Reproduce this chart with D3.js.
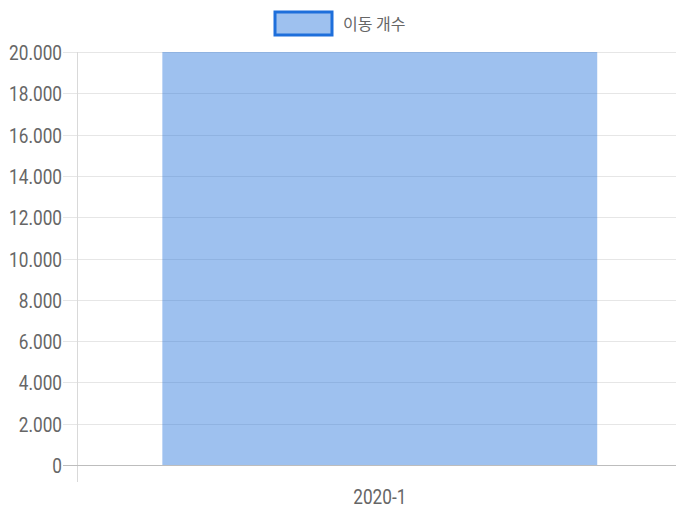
<!DOCTYPE html>
<html>
<head>
<meta charset="utf-8">
<script src="https://cdn.jsdelivr.net/npm/d3@7"></script>
<style>
  body { margin: 0; background: #fff; }
  svg { display: block; }
  .tick text { fill: #666; font-family: Roboto, sans-serif; }
</style>
</head>
<body>
<svg id="chart"></svg>
<script>
// data
var categories = ['2020-1'];
var moveCounts = [23800];
var seriesName = '이동 개수';
var yTicks = [0, 2000, 4000, 6000, 8000, 10000, 12000, 14000, 16000, 18000, 20000];

var width = 676, height = 511;
var padding = {t: 52, r: 0, b: 46, l: 77};
var chartWidth = width - padding.l - padding.r;
var chartHeight = height - padding.t - padding.b;

var svg = d3.select('#chart').attr('width', width).attr('height', height);

var xScale = d3.scaleBand().domain(categories).range([padding.l, width - padding.r])
	.paddingInner(0.274).paddingOuter(0.137).align(0.52);
var yScale = d3.scaleLinear().domain([0, 20000]).range([padding.t + chartHeight, padding.t]).clamp(true);

var fmt = function(d) { return d3.format(',')(d).replace(/,/g, '.'); };

// grid lines
svg.append('g').selectAll('line')
	.data(yTicks.slice(1))
	.enter()
	.append('line')
	.attr('x1', padding.l - 14)
	.attr('x2', width)
	.attr('y1', function(d) { return Math.round(yScale(d)) + 0.5; })
	.attr('y2', function(d) { return Math.round(yScale(d)) + 0.5; })
	.style('stroke', '#e6e6e6');

// y axis line
svg.append('line')
	.attr('x1', padding.l + 0.5).attr('x2', padding.l + 0.5)
	.attr('y1', padding.t).attr('y2', padding.t + chartHeight + 17)
	.style('stroke', '#d9d9d9');

// bars
svg.selectAll('rect.bar')
	.data(moveCounts)
	.enter()
	.append('rect')
	.attr('class', 'bar')
	.attr('x', function(d, i) { return xScale(categories[i]); })
	.attr('width', xScale.bandwidth())
	.attr('y', function(d) { return yScale(d); })
	.attr('height', function(d) { return yScale(0) - yScale(d); })
	.style('fill', 'rgba(30, 111, 219, 0.43)');

// baseline and zero tick
svg.append('line')
	.attr('x1', padding.l - 14).attr('x2', width)
	.attr('y1', Math.round(yScale(0)) + 0.5).attr('y2', Math.round(yScale(0)) + 0.5)
	.style('stroke', '#bdbdbd');

// y labels
var yAxis = svg.append('g')
	.attr('transform', 'translate(' + (padding.l - 14) + ',0)')
	.call(d3.axisLeft(yScale).tickValues(yTicks).tickFormat(fmt).tickSize(0).tickPadding(2));
yAxis.select('.domain').remove();
yAxis.selectAll('text')
	.style('font-size', '21px')
	.attr('transform', 'scale(0.82,1)')
	.attr('dy', '0.36em')
	.attr('x', -1 / 0.82);

// x labels
var xAxis = svg.append('g')
	.attr('transform', 'translate(0,' + (padding.t + chartHeight) + ')')
	.call(d3.axisBottom(xScale).tickSize(0).tickPadding(0));
xAxis.select('.domain').remove();
xAxis.selectAll('text')
	.style('font-size', '21px')
	.attr('y', 31)
	.attr('dy', '0.36em')
	.attr('transform', 'scale(0.82,1)');

// legend
var legend = svg.append('g').attr('transform', 'translate(275,12)');
legend.append('rect')
	.attr('width', 57).attr('height', 23)
	.style('fill', 'rgba(30, 111, 219, 0.43)')
	.style('stroke', '#1e6fdb')
	.style('stroke-width', 3);
legend.append('text')
	.attr('x', 68).attr('y', 12).attr('dy', '0.35em')
	.style('font-family', '"Noto Sans CJK KR", sans-serif')
	.style('font-size', '16px')
	.style('fill', '#666')
	.text(seriesName);
</script>
</body>
</html>
